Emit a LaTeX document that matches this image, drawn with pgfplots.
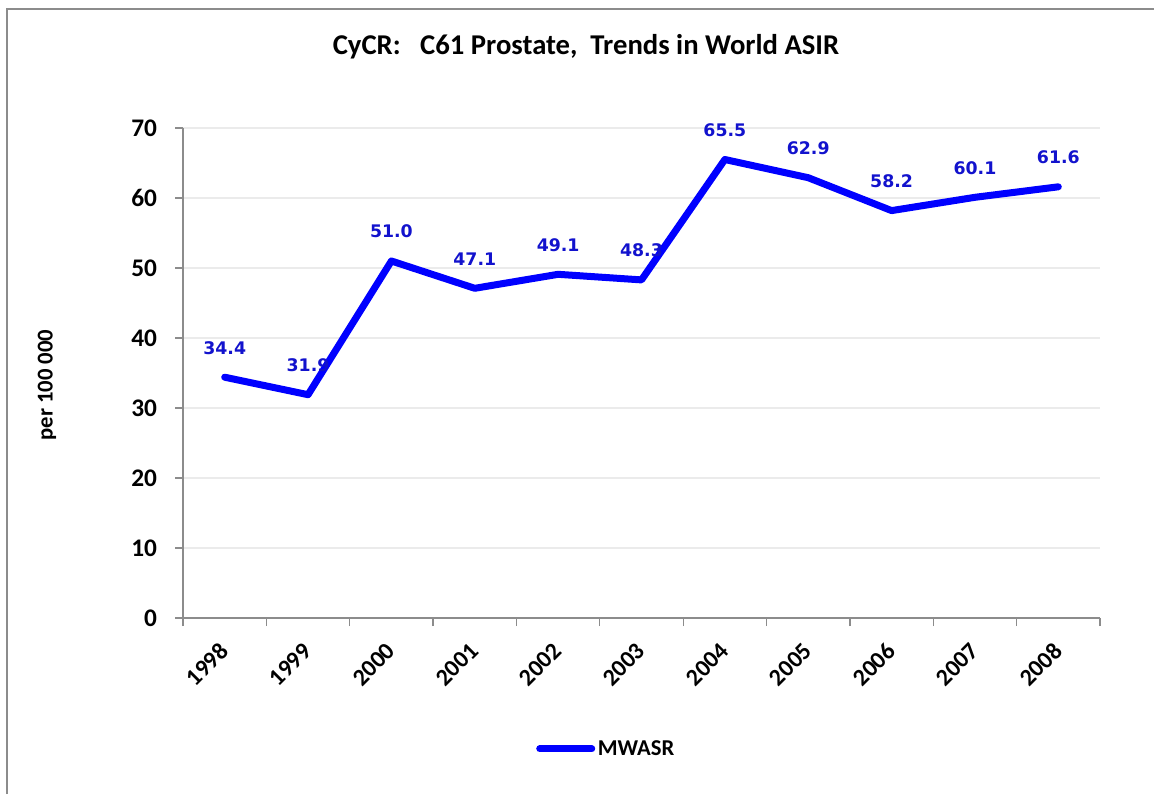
\documentclass[border=0pt]{standalone}
\usepackage{pgfplots}
\pgfplotsset{compat=1.18}
\usepackage{pgfplotstable}
\usepackage{fontspec}
\setmainfont{Carlito}
\newfontfamily\lblfont{DejaVu Sans}
\definecolor{lineblue}{RGB}{0,0,255}
\definecolor{lblblue}{RGB}{18,18,205}
\definecolor{gridgray}{RGB}{235,235,235}
\definecolor{axisgray}{RGB}{140,140,140}
\pgfplotstableread{
x y lab
0 34.4 34.4
1 31.9 31.9
2 51.0 51.0
3 47.1 47.1
4 49.1 49.1
5 48.3 48.3
6 65.5 65.5
7 62.9 62.9
8 58.2 58.2
9 60.1 60.1
10 61.6 61.6
}\datatable
\begin{document}
\begin{tikzpicture}
\path[use as bounding box] (0pt,0pt) rectangle (865.5pt,595.5pt);
\draw[axisgray, line width=1.2pt] (5.25pt,0pt) -- (5.25pt,588.75pt) -- (865.5pt,588.75pt);
\node[font=\bfseries\fontsize{21.5}{24}\selectfont] at (439.5pt,560.25pt) {CyCR:\ \ \ C61 Prostate,\ \ Trends in World ASIR};
\node[rotate=90, font=\bfseries\fontsize{17}{20}\selectfont] at (35.25pt,306.75pt) {per 100 000};
\begin{axis}[
  at={(137.25pt,132pt)}, anchor=south west,
  scale only axis, width=687.75pt, height=367.5pt,
  xmin=-0.5, xmax=10.5, ymin=0, ymax=70,
  ytick={0,10,...,70},
  xtick={0,...,10},
  xticklabels={1998,1999,2000,2001,2002,2003,2004,2005,2006,2007,2008},
  minor xtick={-0.5,0.5,...,10.5},
  major x tick style={draw=none},
  tick align=outside,
  major tick length=6pt, minor tick length=6pt,
  tick style={axisgray, line width=1pt},
  axis x line*=bottom, axis y line*=left,
  axis line style={axisgray, line width=1.2pt, -},
  ymajorgrids, grid style={gridgray, line width=1pt},
  /pgf/number format/assume math mode=true,
  yticklabel style={font=\bfseries\fontsize{19}{21}\selectfont, xshift=-10pt},
  xticklabel style={font=\bfseries\fontsize{18}{20}\selectfont, rotate=45, anchor=east, yshift=-11pt, xshift=-8pt},
  legend style={at={(0.462,-0.267)}, anchor=center, draw=none, fill=none,
    font=\bfseries\fontsize{17}{20}\selectfont},
  legend image code/.code={\draw[lineblue, line width=5.25pt, line cap=round] (0pt,0pt) -- (39pt,0pt);},
]
\addplot[draw=none, mark=none, forget plot,
  nodes near coords, point meta=explicit symbolic,
  every node near coord/.append style={font=\lblfont\bfseries\fontsize{13}{15}\selectfont, text=lblblue, anchor=center, yshift=22pt}]
  table[x=x, y=y, meta=lab] {\datatable};
\addplot[lineblue, line width=5.25pt, line join=round, line cap=round, mark=none]
  table[x=x, y=y] {\datatable};
\addlegendentry{MWASR}
\end{axis}
\end{tikzpicture}
\end{document}
